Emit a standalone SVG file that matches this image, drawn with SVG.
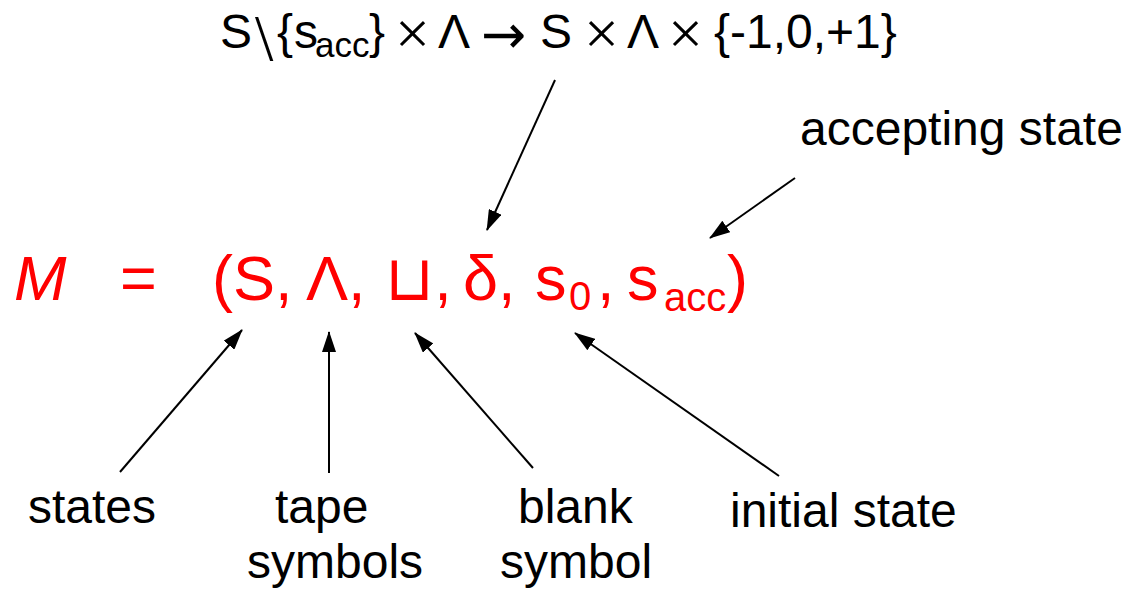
<svg xmlns="http://www.w3.org/2000/svg" width="1128" height="590" viewBox="0 0 1128 590">
<defs>
<style>
.t{font-family:"Liberation Sans",Arial,"DejaVu Sans",sans-serif;fill:#000}
.r{font-family:"Liberation Sans",Arial,"DejaVu Sans",sans-serif;fill:#ff0000}
.op{font-family:"Liberation Serif","Times New Roman","DejaVu Serif",serif}
.ar{font-family:"DejaVu Sans",sans-serif}
.lbl{font-size:48px}
.c{stroke:#000;stroke-width:2;fill:none;marker-end:url(#ah)}
</style>
<marker id="ah" markerUnits="userSpaceOnUse" markerWidth="21" markerHeight="14" viewBox="0 0 21 14" refX="20" refY="7" orient="auto">
<path d="M0,0 L21,7 L0,14 Z" fill="#000"/>
</marker>
</defs>
<rect width="1128" height="590" fill="#fff"/>
<g id="transition-signature">
<text class="t" font-size="48" y="48"><tspan x="220">S</tspan><tspan class="op" x="255" y="60" font-size="66">\</tspan><tspan x="277" y="48">{</tspan><tspan x="294">s</tspan><tspan x="315" y="57" font-size="35">acc</tspan><tspan x="369" y="48">}</tspan><tspan class="op" x="395" y="54" font-size="62">×</tspan><tspan x="438" y="48">Λ</tspan><tspan class="ar" x="481" y="53" font-size="54">→</tspan><tspan x="540" y="48">S</tspan><tspan class="op" x="584" y="54" font-size="62">×</tspan><tspan x="627" y="48">Λ</tspan><tspan class="op" x="668" y="54" font-size="62">×</tspan><tspan x="714" y="48">{-1,0,+1}</tspan></text>
</g>
<g id="machine-tuple">
<text class="r" font-size="63" y="300"><tspan x="14" font-style="italic">M</tspan><tspan x="120">=</tspan><tspan x="212">(</tspan><tspan x="233">S,</tspan><tspan x="306">Λ,</tspan><tspan x="385">⊔,</tspan><tspan x="463">δ,</tspan><tspan x="535">s</tspan><tspan x="569" y="310" font-size="40">0</tspan><tspan x="597" y="300">,</tspan><tspan x="627">s</tspan><tspan x="664" y="311" font-size="40">acc</tspan><tspan x="727" y="300">)</tspan></text>
</g>
<g id="label-accepting"><text class="t lbl" x="800" y="145">accepting state</text></g>
<g id="label-states"><text class="t lbl" x="28" y="523">states</text></g>
<g id="label-tape"><text class="t lbl" x="275" y="523">tape</text><text class="t lbl" x="247" y="578">symbols</text></g>
<g id="label-blank"><text class="t lbl" x="518" y="523">blank</text><text class="t lbl" x="500" y="578">symbol</text></g>
<g id="label-initial"><text class="t lbl" x="730" y="527">initial state</text></g>
<g id="connectors">
<line class="c" x1="555" y1="80" x2="487" y2="230"/>
<line class="c" x1="795" y1="178" x2="710" y2="238"/>
<line class="c" x1="120" y1="472" x2="242" y2="330"/>
<line class="c" x1="329" y1="473" x2="329" y2="332"/>
<line class="c" x1="533" y1="468" x2="415" y2="333"/>
<line class="c" x1="779" y1="476" x2="575" y2="333"/>
</g>
</svg>
